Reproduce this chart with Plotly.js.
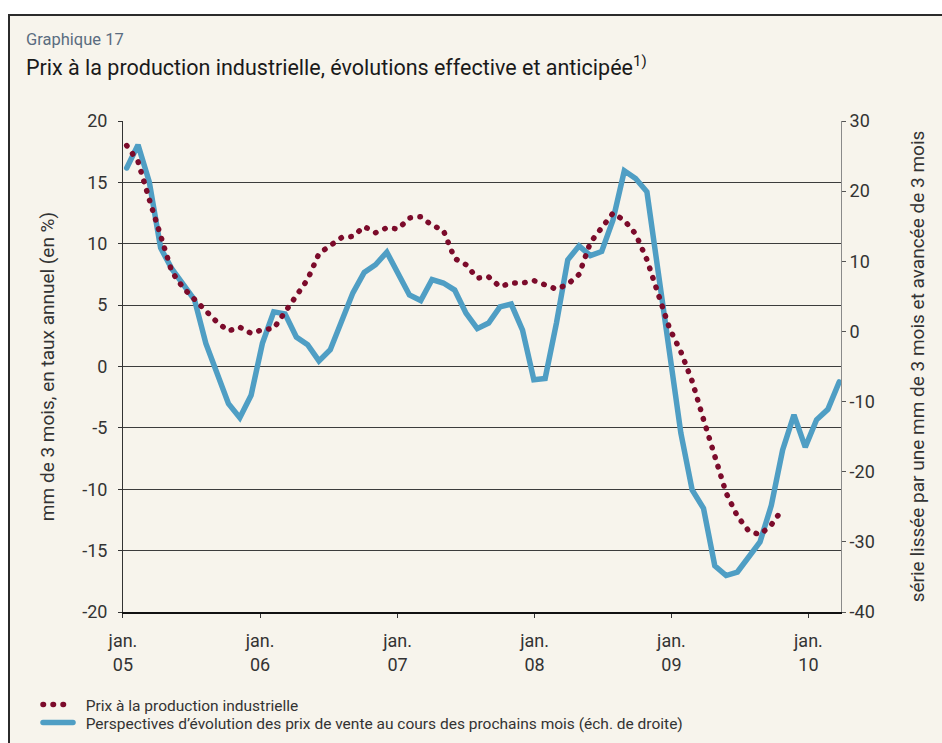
<!DOCTYPE html>
<html>
<head>
<meta charset="utf-8">
<script src="https://cdn.plot.ly/plotly-3.0.1.min.js"></script>
<style>
  html, body { margin: 0; padding: 0; background: #ffffff; }
  #chart { width: 942px; height: 743px; }
  path.js-line { stroke-linecap: round !important; }
</style>
</head>
<body>
<div id="chart"></div>
<script>
// ---------- data ----------
// Perspectives d'évolution des prix de vente (right scale), one value per period
const expectations = [
  23.3, 26.6, 21.3, 11.9, 8.9, 6.6, 4.5, -1.7, -6.0, -10.3,
  -12.3, -9.1, -1.7, 2.8, 2.5, -0.8, -1.9, -4.2, -2.6, 1.2,
  5.5, 8.4, 9.5, 11.3, 8.3, 5.2, 4.4, 7.4, 6.9, 5.9,
  2.6, 0.4, 1.2, 3.5, 3.9, 0.2, -6.9, -6.7, 1.2, 10.2,
  12.2, 10.8, 11.4, 15.9, 22.9, 21.8, 19.9, 8.6, -3.2, -14.5,
  -22.6, -25.2, -33.4, -34.8, -34.3, -32.0, -30.0, -24.8, -16.9, -11.9,
  -16.5, -12.6, -11.1, -7.2
];
// Prix à la production industrielle (left scale)
const producerPrices = [
  18.0, 16.7, 13.6, 10.6, 7.7, 6.4, 5.5, 4.6, 3.6, 2.9,
  3.2, 2.7, 3.0, 3.1, 4.5, 5.8, 7.1, 9.2, 9.9, 10.5,
  10.6, 11.4, 10.9, 11.3, 11.2, 12.1, 12.2, 11.5, 11.1, 8.8,
  8.3, 7.2, 7.3, 6.5, 6.8, 6.8, 7.0, 6.6, 6.3, 6.7,
  7.5, 10.1, 11.3, 12.5, 11.9, 10.8, 8.7, 5.9, 3.1, 1.2,
  -1.2, -4.3, -7.5, -10.3, -12.2, -13.4, -13.7, -12.9, -11.6
];
const seriesNames = [
  'Prix à la production industrielle',
  'Perspectives d’évolution des prix de vente au cours des prochains mois (éch. de droite)'
];
// x-axis (period index) tick labels
const xTickPos = [-0.33, 11.79, 23.95, 36.06, 48.17, 60.28];
const xTickText = ['jan.<br>05', 'jan.<br>06', 'jan.<br>07', 'jan.<br>08', 'jan.<br>09', 'jan.<br>10'];
const leftTicks = [20, 15, 10, 5, 0, -5, -10, -15, -20];
const leftTickText = ['20', '15', '10', '5', '0', '-5', '-10', '-15', '-20'];
const rightTicks = [30, 20, 10, 0, -10, -20, -30, -40];
const rightTickText = ['30', '20', '10', '0', '-10', '-20', '-30', '-40'];

// ---------- styling ----------
const FONT = 'Roboto, "Noto Sans", "DejaVu Sans", sans-serif';
const RED = '#7c0b2b';
const BLUE = '#4f9ec4';
const CREAM = '#f7f4ec';
const TXT = '#333333';
const W = 942, H = 743, L = 123, R = 841, T = 121, B = 612;
const fx = p => (p - L) / (R - L);   // pixel -> paper x
const fy = p => (B - p) / (B - T);   // pixel -> paper y
const idx = n => Array.from({length: n}, (_, i) => i);
const GAP = '\u00a0\u00a0';

const traces = [
  {
    x: idx(producerPrices.length), y: producerPrices, yaxis: 'y2',
    type: 'scatter', mode: 'lines', name: GAP + seriesNames[0], legend: 'legend',
    line: {color: RED, width: 5.5, dash: '0.5px,9.5px'}
  },
  {
    x: idx(expectations.length), y: expectations, yaxis: 'y',
    type: 'scatter', mode: 'lines', name: GAP + seriesNames[1], legend: 'legend2',
    line: {color: BLUE, width: 5.5}
  }
];

const legendStyle = (topPx) => ({
  x: fx(38), y: fy(topPx), xanchor: 'left', yanchor: 'top',
  bgcolor: 'rgba(0,0,0,0)', font: {size: 15.5, color: TXT, family: FONT},
  tracegroupgap: 0, itemwidth: 30
});

const layout = {
  width: W, height: H,
  margin: {l: L, r: W - R, t: T, b: H - B, pad: 0, autoexpand: false},
  paper_bgcolor: CREAM, plot_bgcolor: 'rgba(0,0,0,0)',
  font: {family: FONT, color: TXT, size: 18},
  hovermode: false,
  showlegend: true,
  legend: legendStyle(688),
  legend2: legendStyle(706),
  xaxis: {
    range: [-0.327, 63.16], tickmode: 'array', tickvals: xTickPos, ticktext: xTickText,
    ticks: 'outside', ticklen: 4, tickcolor: TXT, tickwidth: 1,
    showline: true, linecolor: '#111111', linewidth: 1.5,
    showgrid: false, zeroline: false, fixedrange: true, automargin: false,
    ticklabelstandoff: 8,
    tickfont: {size: 18, color: TXT}
  },
  yaxis: {
    side: 'right', range: [-40, 30], tickmode: 'array', tickvals: rightTicks, ticktext: rightTickText,
    ticks: 'outside', ticklen: 4, tickcolor: '#555555',
    showline: true, linecolor: '#8a8a8a', linewidth: 1,
    showgrid: false, zeroline: false, fixedrange: true, automargin: false,
    tickfont: {size: 18, color: TXT},
    title: {text: 'série lissée par une mm de 3 mois et avancée de 3 mois', font: {size: 19, color: TXT}, standoff: 36}
  },
  yaxis2: {
    overlaying: 'y', side: 'left', range: [-20, 20], tickmode: 'array', tickvals: leftTicks, ticktext: leftTickText,
    ticks: 'outside', ticklen: 4, tickcolor: TXT,
    showline: true, linecolor: TXT, linewidth: 1,
    showgrid: true, gridcolor: '#3c3c3c', gridwidth: 1,
    zeroline: false, fixedrange: true, automargin: false,
    ticklabelstandoff: 7,
    tickfont: {size: 18, color: TXT},
    title: {text: 'mm de 3 mois, en taux annuel (en %)', font: {size: 19, color: TXT}, standoff: 22}
  },
  shapes: [
    {type: 'rect', xref: 'paper', yref: 'paper', layer: 'below',
     x0: fx(0), x1: fx(W), y0: fy(14), y1: fy(0), fillcolor: '#ffffff', line: {width: 0}},
    {type: 'rect', xref: 'paper', yref: 'paper', layer: 'below',
     x0: fx(0), x1: fx(8), y0: fy(H), y1: fy(0), fillcolor: '#ffffff', line: {width: 0}},
    {type: 'line', xref: 'paper', yref: 'paper', layer: 'below',
     x0: fx(8), x1: fx(W), y0: fy(15), y1: fy(15), line: {color: '#2b2b2b', width: 2}},
    {type: 'line', xref: 'paper', yref: 'paper', layer: 'below',
     x0: fx(9), x1: fx(9), y0: fy(14), y1: fy(H), line: {color: '#2b2b2b', width: 2}}
  ],
  annotations: [
    {text: 'Graphique 17', xref: 'paper', yref: 'paper', x: fx(24), y: fy(40),
     xanchor: 'left', yanchor: 'middle', showarrow: false,
     font: {size: 16.5, color: '#5a6c80', family: FONT}},
    {text: 'Prix à la production industrielle, évolutions effective et anticipée<sup>1)</sup>',
     xref: 'paper', yref: 'paper', x: fx(24), y: fy(66),
     xanchor: 'left', yanchor: 'middle', showarrow: false,
     font: {size: 21.5, color: '#1a1a1a', family: FONT}}
  ]
};

Plotly.newPlot('chart', traces, layout, {staticPlot: true, displayModeBar: false});
</script>
</body>
</html>
